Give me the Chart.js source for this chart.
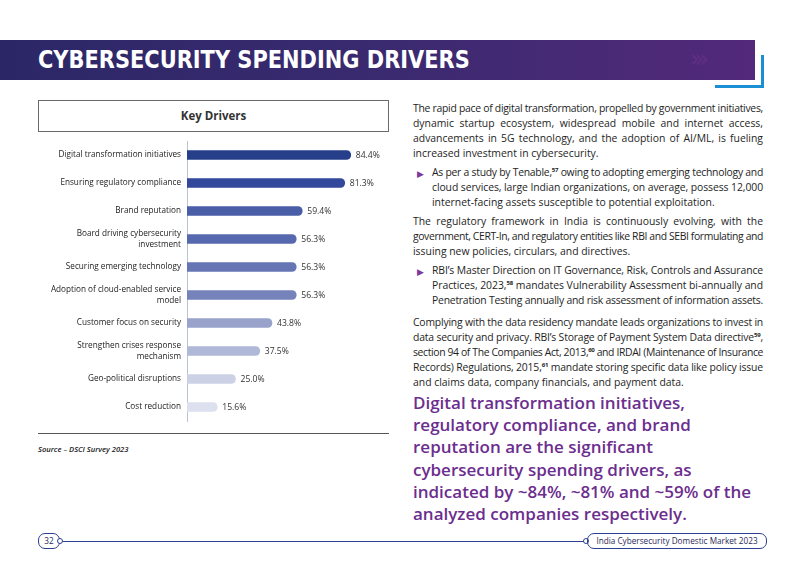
<!DOCTYPE html>
<html lang="en">
<head>
<meta charset="UTF-8">
<title>Cybersecurity Spending Drivers</title>
<script src="https://cdn.jsdelivr.net/npm/chart.js"></script>
<style>
  html, body { margin: 0; padding: 0; background: #fff; }
  body { width: 800px; height: 567px; position: relative; overflow: hidden; font-family: "Open Sans", sans-serif; color: #222; }
  .abs { position: absolute; }
  #band { left: 0; top: 40px; width: 755px; height: 40px; background: linear-gradient(to right, #2b2767 0%, #3a2a6f 50%, #53297b 100%); }
  #title { left: 38px; top: 40px; height: 40px; line-height: 40px; color: #fff; font-family: "DejaVu Sans", sans-serif; font-weight: bold; font-stretch: condensed; font-size: 25px; white-space: nowrap; transform-origin: left center; }
  #chev { left: 690px; top: 40px; height: 40px; line-height: 38px; color: rgba(160,70,170,0.22); font-family: "DejaVu Sans"; font-size: 24px; letter-spacing: -5px; }
  .blue { background: #1b8fd4; }
  #keybox { left: 38px; top: 100px; width: 349px; height: 30px; border: 1px solid #6a6a6a; text-align: center; line-height: 30px; font-weight: bold; font-size: 11.5px; color: #333; }
  #chartWrap { left: 30px; top: 135px; width: 365px; height: 293px; }
  #rule { left: 38px; top: 433px; width: 351px; height: 1px; background: #555; }
  #source { left: 38px; top: 444px; font-size: 7.6px; font-style: italic; font-weight: 600; color: #222; }
  #text { left: 413px; top: 100.5px; width: 350px; font-size: 10.4px; line-height: 15px; color: #1e1e1e; }
  #text .ln { display: block; white-space: nowrap; text-align: justify; text-align-last: justify; }
  #text .ln.last { text-align-last: left; }
  #text .p { margin-bottom: 4px; }
  #text .p.gap { margin-bottom: 7px; }
  #text .b { padding-left: 19px; position: relative; }
  #text .b::before { content: "\25B6"; position: absolute; left: 4px; top: 1px; color: #7a3b9c; font-size: 8.5px; }
  sup { font-size: 6px; font-weight: bold; line-height: 0; vertical-align: 4px; }
  #hl { left: 413px; top: 392px; width: 360px; font-size: 17px; line-height: 22.2px; font-weight: 600; color: #6c2e8e; }
  .pill { border: 1px solid #2f3f8f; border-radius: 7px; height: 14px; line-height: 14px; font-size: 8.2px; color: #2a2a5a; text-align: center; }
  #fline { left: 60px; top: 541px; width: 527px; height: 1px; background: #2f3f8f; }
  .dot { width: 4px; height: 4px; border: 1px solid #2f3f8f; border-radius: 50%; background: #fff; }
</style>
</head>
<body>
<div id="band" class="abs"></div>
<div id="chev" class="abs">&#8250;&#8250;&#8250;</div>
<div id="title" class="abs">CYBERSECURITY SPENDING DRIVERS</div>
<div class="abs blue" style="left:761px; top:55px; width:3px; height:33px;"></div>
<div class="abs blue" style="left:715px; top:85px; width:49px; height:3px;"></div>

<div id="keybox" class="abs">Key Drivers</div>
<div id="chartWrap" class="abs"><canvas id="driversChart" width="365" height="293"></canvas></div>
<div id="rule" class="abs"></div>
<div id="source" class="abs">Source – DSCI Survey 2023</div>

<div id="text" class="abs">
  <div class="p">
    <span class="ln">The rapid pace of digital transformation, propelled by government initiatives,</span>
    <span class="ln">dynamic startup ecosystem, widespread mobile and internet access,</span>
    <span class="ln">advancements in 5G technology, and the adoption of AI/ML, is fueling</span>
    <span class="ln last">increased investment in cybersecurity.</span>
  </div>
  <div class="p b">
    <span class="ln">As per a study by Tenable,<sup>57</sup> owing to adopting emerging technology and</span>
    <span class="ln">cloud services, large Indian organizations, on average, possess 12,000</span>
    <span class="ln last">internet-facing assets susceptible to potential exploitation.</span>
  </div>
  <div class="p">
    <span class="ln">The regulatory framework in India is continuously evolving, with the</span>
    <span class="ln">government, CERT-In, and regulatory entities like RBI and SEBI formulating and</span>
    <span class="ln last">issuing new policies, circulars, and directives.</span>
  </div>
  <div class="p b gap">
    <span class="ln">RBI’s Master Direction on IT Governance, Risk, Controls and Assurance</span>
    <span class="ln">Practices, 2023,<sup>58</sup> mandates Vulnerability Assessment bi-annually and</span>
    <span class="ln last">Penetration Testing annually and risk assessment of information assets.</span>
  </div>
  <div class="p">
    <span class="ln">Complying with the data residency mandate leads organizations to invest in</span>
    <span class="ln">data security and privacy. RBI’s Storage of Payment System Data directive<sup>59</sup>,</span>
    <span class="ln">section 94 of The Companies Act, 2013,<sup>60</sup> and IRDAI (Maintenance of Insurance</span>
    <span class="ln">Records) Regulations, 2015,<sup>61</sup> mandate storing specific data like policy issue</span>
    <span class="ln last">and claims data, company financials, and payment data.</span>
  </div>
</div>

<div id="hl" class="abs">Digital transformation initiatives,<br>regulatory compliance, and brand<br>reputation are the significant<br>cybersecurity spending drivers, as<br>indicated by ~84%, ~81% and ~59% of the<br>analyzed companies respectively.</div>

<div id="fline" class="abs"></div>
<div class="abs pill" style="left:38px; top:533px; width:20px;">32</div>
<div class="abs dot" style="left:57px; top:538px;"></div>
<div class="abs dot" style="left:583px; top:538px;"></div>
<div class="abs pill" style="left:587px; top:533px; width:178px;">India Cybersecurity Domestic Market 2023</div>

<script>
  // fit title to its width in the reference
  const title = document.getElementById('title');
  title.style.transform = 'scaleX(' + (432 / title.scrollWidth) + ')';

  // tighten any body line that is wider than the column
  document.querySelectorAll('#text .ln').forEach(function (ln) {
    const w = ln.parentElement.clientWidth - (ln.parentElement.classList.contains('b') ? 19 : 0);
    const range = document.createRange();
    range.selectNodeContents(ln);
    const natural = range.getBoundingClientRect().width;
    if (natural > w) {
      ln.style.letterSpacing = ((w - natural) / ln.textContent.length) + 'px';
    }
  });

  const drivers = [
    'Digital transformation initiatives',
    'Ensuring regulatory compliance',
    'Brand reputation',
    ['Board driving cybersecurity', 'investment'],
    'Securing emerging technology',
    ['Adoption of cloud-enabled service', 'model'],
    'Customer focus on security',
    ['Strengthen crises response', 'mechanism'],
    'Geo-political disruptions',
    'Cost reduction'
  ];
  const shares = [84.4, 81.3, 59.4, 56.3, 56.3, 56.3, 43.8, 37.5, 25.0, 15.6];
  const barColors = ['#263f8a', '#33489a', '#4a5ea8', '#5769ae', '#6676b4', '#7583ba', '#98a2cb', '#b0b8d7', '#ccd1e5', '#dde0ee'];

  const valueLabels = {
    id: 'valueLabels',
    afterDatasetsDraw(chart) {
      const ctx = chart.ctx;
      ctx.save();
      ctx.font = '8.6px "Open Sans"';
      ctx.fillStyle = '#333';
      ctx.textBaseline = 'middle';
      chart.getDatasetMeta(0).data.forEach(function (bar, i) {
        ctx.fillText(shares[i].toFixed(1) + '%', bar.x + 5, bar.y + 0.5);
      });
      ctx.restore();
    }
  };

  new Chart(document.getElementById('driversChart'), {
    type: 'bar',
    data: {
      labels: drivers,
      datasets: [{
        data: shares,
        backgroundColor: barColors,
        barThickness: 9,
        borderRadius: 5
      }]
    },
    options: {
      indexAxis: 'y',
      responsive: false,
      animation: false,
      layout: { padding: { top: 6, bottom: 7, right: 14, left: 0 } },
      plugins: { legend: { display: false }, tooltip: { enabled: false } },
      scales: {
        x: { display: false, min: 0, max: 100 },
        y: {
          afterFit(scale) {
            scale.width = 157;
            scale.paddingTop = 0;
            scale.paddingBottom = 0;
          },
          grid: { display: false, drawTicks: false, tickLength: 0 },
          border: { display: true, color: '#b9c4d3', width: 1 },
          ticks: { color: '#222', padding: 6, font: { family: 'Open Sans', size: 8.2, lineHeight: 1.4 } }
        }
      }
    },
    plugins: [valueLabels]
  });
</script>
</body>
</html>
